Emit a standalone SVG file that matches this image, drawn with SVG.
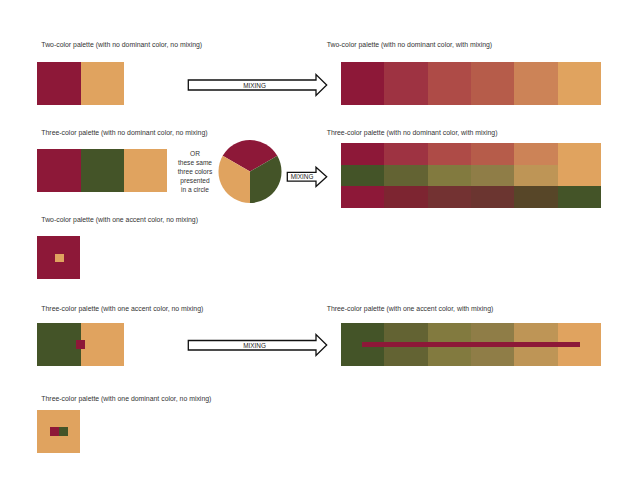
<svg xmlns="http://www.w3.org/2000/svg" width="640" height="480" viewBox="0 0 640 480">
<style>
.t{font-family:"Liberation Sans",Arial,sans-serif;font-size:6.9px;fill:#333}
.m{font-family:"Liberation Sans",Arial,sans-serif;font-size:6.4px;fill:#222;text-anchor:middle}
.or{font-family:"Liberation Sans",Arial,sans-serif;font-size:6.6px;fill:#333;text-anchor:middle}
.arr{fill:#fff;stroke:#111;stroke-width:1.3;stroke-linejoin:miter}
.R{fill:#8D1838}.O{fill:#E0A35F}.G{fill:#445428}
rect{shape-rendering:crispEdges}
</style>
<rect width="640" height="480" fill="#fff"/>

<g id="two-color-no-mix">
<text class="t" x="41.3" y="46.7">Two-color palette (with no dominant color, no mixing)</text>
<rect class="R" x="37.3" y="62.3" width="43.4" height="43"/>
<rect class="O" x="80.7" y="62.3" width="43.6" height="43"/>
</g>

<g id="two-color-mix">
<text class="t" x="326.7" y="46.7">Two-color palette (with no dominant color, with mixing)</text>
<rect x="340.7" y="62.3" width="43.4" height="43" fill="#8D1838"/>
<rect x="384.1" y="62.3" width="43.4" height="43" fill="#9E3342"/>
<rect x="427.5" y="62.3" width="43.4" height="43" fill="#AE4B47"/>
<rect x="470.9" y="62.3" width="43.4" height="43" fill="#B65C4A"/>
<rect x="514.3" y="62.3" width="43.4" height="43" fill="#CC8357"/>
<rect x="557.7" y="62.3" width="43.3" height="43" fill="#E0A35F"/>
</g>

<g id="three-color-no-mix">
<text class="t" x="41.3" y="135">Three-color palette (with no dominant color, no mixing)</text>
<rect class="R" x="37.3" y="149.3" width="43.4" height="43"/>
<rect class="G" x="80.7" y="149.3" width="43.6" height="43"/>
<rect class="O" x="124.3" y="149.3" width="43" height="43"/>
</g>

<g id="or-text">
<text class="or" x="195" y="156.3">OR</text>
<text class="or" x="195" y="165.3">these same</text>
<text class="or" x="195" y="174.3">three colors</text>
<text class="or" x="195" y="183.3">presented</text>
<text class="or" x="195" y="192">in a circle</text>
</g>

<g id="pie">
<path class="R" d="M250,171.5 L222.7,155.75 A31.5,31.5 0 0 1 277.3,155.75 Z"/>
<path class="G" d="M250,171.5 L277.3,155.75 A31.5,31.5 0 0 1 250,203 Z"/>
<path class="O" d="M250,171.5 L250,203 A31.5,31.5 0 0 1 222.7,155.75 Z"/>
</g>

<g id="three-color-mix">
<text class="t" x="326.7" y="134.5">Three-color palette (with no dominant color, with mixing)</text>
<rect x="340.7" y="143.3" width="43.4" height="21.7" fill="#8D1838"/>
<rect x="384.1" y="143.3" width="43.4" height="21.7" fill="#9E3342"/>
<rect x="427.5" y="143.3" width="43.4" height="21.7" fill="#AE4B47"/>
<rect x="470.9" y="143.3" width="43.4" height="21.7" fill="#B65C4A"/>
<rect x="514.3" y="143.3" width="43.4" height="21.7" fill="#CC8357"/>
<rect x="557.7" y="143.3" width="43.3" height="42.7" fill="#E0A35F"/>
<rect x="340.7" y="165" width="43.4" height="21" fill="#445428"/>
<rect x="384.1" y="165" width="43.4" height="21" fill="#636333"/>
<rect x="427.5" y="165" width="43.4" height="21" fill="#827A3F"/>
<rect x="470.9" y="165" width="43.4" height="21" fill="#8F7D47"/>
<rect x="514.3" y="165" width="43.4" height="21" fill="#BE9556"/>
<rect x="340.7" y="186" width="43.4" height="21.7" fill="#8D1838"/>
<rect x="384.1" y="186" width="43.4" height="21.7" fill="#7D2531"/>
<rect x="427.5" y="186" width="43.4" height="21.7" fill="#733232"/>
<rect x="470.9" y="186" width="43.4" height="21.7" fill="#6B3530"/>
<rect x="514.3" y="186" width="43.4" height="21.7" fill="#574628"/>
<rect x="557.7" y="186" width="43.3" height="21.7" fill="#445428"/>
</g>

<g id="two-color-accent">
<text class="t" x="41.3" y="222.3">Two-color palette (with one accent color, no mixing)</text>
<rect class="R" x="37.3" y="236" width="43" height="42.7"/>
<rect class="O" x="55" y="254" width="9" height="8"/>
</g>

<g id="three-color-accent">
<text class="t" x="41.3" y="310.7">Three-color palette (with one accent color, no mixing)</text>
<rect class="G" x="37.3" y="323" width="43.4" height="43"/>
<rect class="O" x="80.7" y="323" width="43.6" height="43"/>
<rect class="R" x="76" y="340" width="8.7" height="9"/>
</g>

<g id="three-color-accent-mix">
<text class="t" x="326.7" y="310.7">Three-color palette (with one accent color, with mixing)</text>
<rect x="340.7" y="323" width="43.4" height="43" fill="#445428"/>
<rect x="384.1" y="323" width="43.4" height="43" fill="#636333"/>
<rect x="427.5" y="323" width="43.4" height="43" fill="#827A3F"/>
<rect x="470.9" y="323" width="43.4" height="43" fill="#8F7D47"/>
<rect x="514.3" y="323" width="43.4" height="43" fill="#BE9556"/>
<rect x="557.7" y="323" width="43.3" height="43" fill="#E0A35F"/>
<rect class="R" x="361.7" y="341.7" width="218.3" height="5"/>
</g>

<g id="three-color-dominant">
<text class="t" x="41.3" y="401">Three-color palette (with one  dominant color, no mixing)</text>
<rect class="O" x="37.3" y="410" width="43" height="43"/>
<rect class="R" x="50.3" y="426.7" width="9" height="9"/>
<rect class="G" x="59.3" y="426.7" width="8.7" height="9"/>
</g>

<g id="connectors">
<path class="arr" d="M188.3,80 H316 V74.5 L326.7,85 L316,95.5 V90 H188.3 Z"/>
<text class="m" x="254.5" y="87.5">MIXING</text>
<path class="arr" d="M287.3,172.3 H316 V167.3 L326.7,176.8 L316,186.5 V181.2 H287.3 Z"/>
<text class="m" x="302" y="179">MIXING</text>
<path class="arr" d="M188.3,340.5 H316 V334.5 L326.7,345 L316,355.5 V350 H188.3 Z"/>
<text class="m" x="254.5" y="347.7">MIXING</text>
</g>
</svg>
